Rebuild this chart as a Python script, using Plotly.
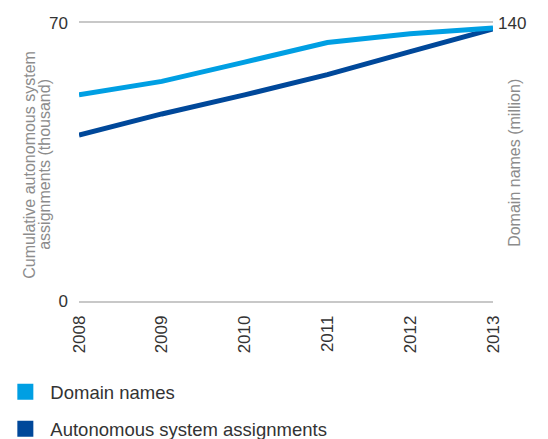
import plotly.graph_objs as go

years = ["2008", "2009", "2010", "2011", "2012", "2013"]
domain_names = [103.9, 110.6, 120.3, 130.2, 134.6, 137.5]       # million, right axis
as_assignments = [41.8, 47.1, 51.9, 57.0, 62.8, 68.5]          # thousand, left axis

light_blue = "#009fe3"
dark_blue = "#00489a"
grey_title = "#8c8c8c"
font_family = "Arial, Liberation Sans, sans-serif"

fig = go.Figure()

fig.add_trace(go.Scatter(x=years, y=domain_names, yaxis="y2", mode="lines",
                         line=dict(color=light_blue, width=5), showlegend=False))
fig.add_trace(go.Scatter(x=years, y=as_assignments, mode="lines",
                         line=dict(color=dark_blue, width=5), showlegend=False))

# legend entries drawn as squares
fig.add_trace(go.Scatter(x=[None], y=[None], mode="markers", name="Domain names",
                         legendgroup="a",
                         marker=dict(symbol="square", size=16, color=light_blue)))
fig.add_trace(go.Scatter(x=[None], y=[None], mode="markers", name="Autonomous system assignments",
                         legendgroup="b",
                         marker=dict(symbol="square", size=16, color=dark_blue)))

# axis titles as annotations so they can sit close to the plot
title_font = dict(size=16, color=grey_title, family=font_family)
fig.add_annotation(text="Cumulative autonomous system", xref="paper", yref="paper",
                   x=0, y=0.49, xshift=-49, textangle=-90, showarrow=False,
                   xanchor="center", yanchor="middle", font=title_font)
fig.add_annotation(text="assignments (thousand)", xref="paper", yref="paper",
                   x=0, y=0.49, xshift=-34, textangle=-90, showarrow=False,
                   xanchor="center", yanchor="middle", font=title_font)
fig.add_annotation(text="Domain names (million)", xref="paper", yref="paper",
                   x=1, y=0.497, xshift=22, textangle=-90, showarrow=False,
                   xanchor="center", yanchor="middle", font=title_font)

fig.update_layout(
    width=548, height=439,
    margin=dict(l=79, r=55, t=23, b=138, autoexpand=False),
    paper_bgcolor="white", plot_bgcolor="white",
    font=dict(family=font_family, color="#333333"),
    xaxis=dict(type="category", tickangle=-90, tickfont=dict(size=17, color="#333333"),
               showgrid=False, zeroline=False, ticks="", range=[0, 5],
               showline=True, mirror=True, linecolor="#c8c8c8", linewidth=1.5,
               ticklabelstandoff=6, automargin=False),
    yaxis=dict(range=[0, 70], tickvals=[0, 70], tickfont=dict(size=17, color="#333333"),
               showgrid=False, zeroline=False, ticklabelstandoff=10, automargin=False),
    yaxis2=dict(range=[0, 140], tickvals=[140], overlaying="y", side="right",
                tickfont=dict(size=17, color="#333333"), showgrid=False, zeroline=False,
                ticklabelstandoff=4, automargin=False),
    legend=dict(x=-0.19, y=-0.26, xanchor="left", yanchor="top", orientation="v",
                font=dict(size=18.5, color="#333333"), tracegroupgap=10,
                itemwidth=40),
)

fig.write_html("out.html", config={"displayModeBar": False},
               post_script="document.body.style.margin='0';")
